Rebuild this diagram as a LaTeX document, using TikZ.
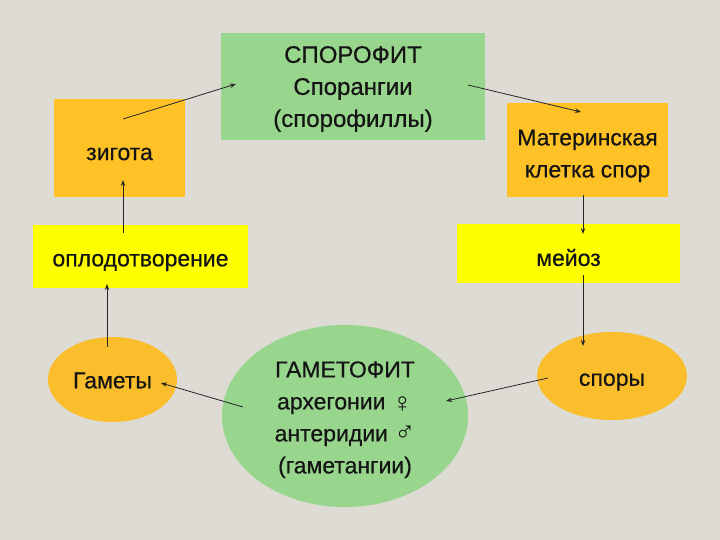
\documentclass[tikz,border=0pt]{standalone}
\usepackage{fontspec}
\setmainfont{Liberation Sans}[FakeBold=0.5]
\newfontfamily\symfont{Liberation Sans}
\usetikzlibrary{arrows.meta,shapes.geometric}
\definecolor{bg}{RGB}{221,219,211}
\definecolor{grn}{RGB}{152,214,141}
\definecolor{org}{RGB}{255,194,38}
\definecolor{orgel}{RGB}{250,190,45}
\definecolor{yel}{RGB}{255,255,0}
\definecolor{txt}{RGB}{20,20,20}
\newcommand\dn[2]{\raisebox{-#1}[\height][\depth]{#2}}
\newcommand\sym[2]{\raisebox{#1}[0pt][0pt]{\symfont\fontsize{28}{28}\selectfont #2}}
\begin{document}
\begin{tikzpicture}[x=1pt,y=-1pt,
  box/.style={rectangle,inner sep=0pt,align=center,text=txt,font=\fontsize{23}{32}\selectfont},
  ell/.style={ellipse,inner sep=0pt,align=center,text=txt,font=\fontsize{23}{32}\selectfont},
  arr/.style={draw=black!85,line width=0.8pt,-{Stealth[length=6pt,width=4.5pt]}}]
\fill[bg] (0,0) rectangle (720,540);
\useasboundingbox (0,0) rectangle (720,540);
\node[box,fill=grn,minimum width=264pt,minimum height=107pt] (spor) at (353,86.5)
  {\dn{2pt}{\begin{tabular}{@{}c@{}}\fontsize{24}{33}\selectfont СПОРОФИТ\\\fontsize{24}{33}\selectfont Спорангии\\\fontsize{24}{33}\selectfont (спорофиллы)\end{tabular}}};
\node[box,fill=org,minimum width=131pt,minimum height=98pt] (zyg) at (119.5,148) {\dn{6pt}{зигота}};
\node[box,fill=org,minimum width=161pt,minimum height=94pt] (mat) at (587.5,150)
  {\dn{5pt}{\begin{tabular}{@{}c@{}}Материнская\\клетка спор\end{tabular}}};
\node[box,fill=yel,minimum width=215pt,minimum height=63pt] (fert) at (140.5,256.5) {\dn{6pt}{оплодотворение}};
\node[box,fill=yel,minimum width=223pt,minimum height=59pt] (mei) at (568.5,253.5) {\dn{4pt}{мейоз}};
\node[ell,fill=orgel,minimum width=129pt,minimum height=85pt] (gam) at (112.5,379.5) {\dn{1pt}{Гаметы}};
\node[ell,fill=grn,minimum width=246pt,minimum height=182pt] (gph) at (345,416)
  {\dn{3pt}{\begin{tabular}{@{}c@{}}ГАМЕТОФИТ\\архегонии \sym{-3pt}{♀}\\антеридии \sym{0pt}{♂}\\(гаметангии)\end{tabular}}};
\node[ell,fill=orgel,minimum width=150pt,minimum height=88pt] (spo) at (612,376) {\dn{6pt}{споры}};
% connector end points (inside the shapes, as in the reference)
\coordinate (z1) at (123,119);
\coordinate (s1) at (236,84);
\coordinate (s2) at (468,85);
\coordinate (m1) at (581,112);
\coordinate (m2) at (583,195);
\coordinate (e1) at (583,234);
\coordinate (e2) at (583,275);
\coordinate (p1) at (583,346);
\coordinate (p2) at (548,378);
\coordinate (g1) at (446,401);
\coordinate (g2) at (243,407);
\coordinate (a1) at (161,383);
\coordinate (a2) at (107,347);
\coordinate (f1) at (107,284);
\coordinate (f2) at (123,233);
\coordinate (z2) at (123,180);
\draw[arr] (z1) -- (s1);
\draw[arr] (s2) -- (m1);
\draw[arr] (m2) -- (e1);
\draw[arr] (e2) -- (p1);
\draw[arr] (p2) -- (g1);
\draw[arr] (g2) -- (a1);
\draw[arr] (a2) -- (f1);
\draw[arr] (f2) -- (z2);
\end{tikzpicture}
\end{document}
